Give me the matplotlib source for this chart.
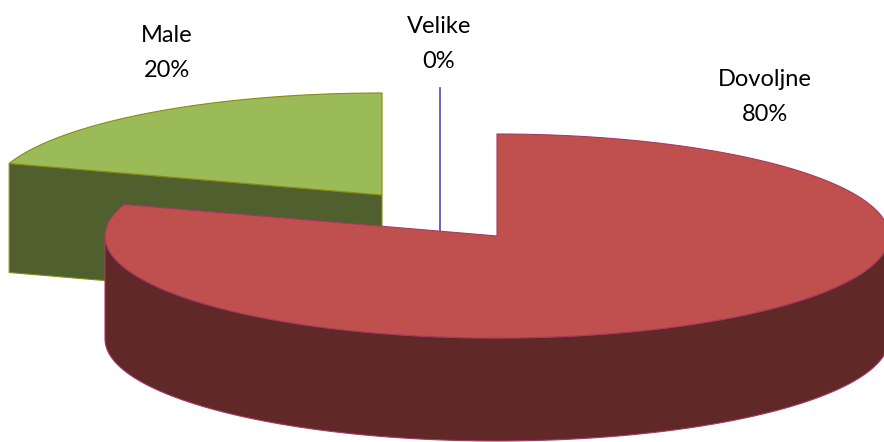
import numpy as np
from matplotlib import pyplot as plt
from matplotlib.patches import Polygon

# data
names = ['Velike', 'Dovoljne', 'Male']
shares = [0, 80, 20]

# look of the slices, pixel layout of the exploded 3d pie
centers = [(439.5, 190), (497, 236), (382, 195)]
depths = [109, 103, 109]
top_colors = ['#4F81BD', '#C0504D', '#9BBB59']
side_colors = ['#2F4D71', '#612828', '#4F5F2D']
edge_colors = ['#4A4AB8', '#A33B62', '#8A8A10']
label_pos = [(439, 44), (765, 97), (167, 53)]
rx = 392
ry = 102


def rim(c, a0, a1):
    # a is clockwise from 12 o'clock, in degrees
    a = np.radians(np.linspace(a0, a1, 200))
    return np.column_stack([c[0] + rx * np.sin(a), c[1] - ry * np.cos(a)])


fig = plt.figure(figsize=(8.84, 4.42), dpi=100)
ax = fig.add_axes([0, 0, 1, 1])
ax.set_xlim(0, 884)
ax.set_ylim(442, 0)
ax.axis('off')

stops = np.cumsum([0] + shares) * 3.6
# green goes first, red is exploded to the front
for z, i in enumerate([2, 0, 1]):
    c, d = centers[i], depths[i]
    a0, a1 = stops[i], stops[i + 1]
    style = dict(ec=edge_colors[i], lw=0.8, joinstyle='round', zorder=z + 1)

    if a1 == a0:
        # empty slice, only a line is left
        p = rim(c, a0, a1)[0]
        ax.plot([p[0], c[0]], [p[1], c[1] + d], color=edge_colors[i], lw=1.2,
                zorder=z + 1)
    else:
        # cut face on the left edge of the slice
        p = rim(c, a0, a0)[0]
        if a0 > 180:
            face = [p, c, (c[0], c[1] + d), (p[0], p[1] + d)]
            ax.add_patch(Polygon(face, fc=side_colors[i], **style))
        # round outer wall, only the front half is seen
        f0, f1 = max(a0, 90), min(a1, 270)
        if f1 > f0:
            up = rim(c, f0, f1)
            wall = np.vstack([up, (up + [0, d])[::-1]])
            ax.add_patch(Polygon(wall, fc=side_colors[i], **style))
        top = np.vstack([[c], rim(c, a0, a1)])
        ax.add_patch(Polygon(top, fc=top_colors[i], **style))

for name, share, pos in zip(names, shares, label_pos):
    ax.text(pos[0], pos[1], f'{name}\n{share}%', ha='center', va='center',
            family='Lato', fontsize=17, linespacing=1.85, color='black', zorder=5)

fig.savefig('out.png', dpi=100)
